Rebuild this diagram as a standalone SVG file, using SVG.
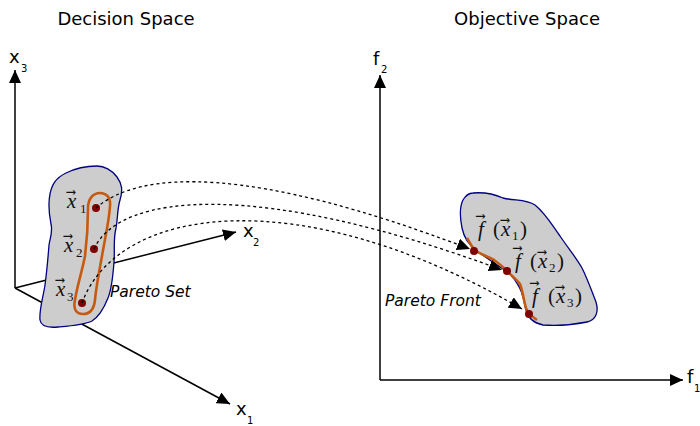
<svg xmlns="http://www.w3.org/2000/svg" width="700" height="426" viewBox="0 0 700 426">
<style>
.title{font-family:"DejaVu Sans",sans-serif;font-size:18px;fill:#000}
.ax{font-family:"DejaVu Sans",sans-serif;font-size:18px;fill:#000}
.sub{font-size:10px}
.lbl{font-family:"DejaVu Sans",sans-serif;font-style:italic;font-size:15.5px;fill:#000}
.m{font-family:"Liberation Serif","DejaVu Serif",serif;font-size:21px;fill:#111}
.mi{font-style:italic}
.acc{font-family:"DejaVu Sans",sans-serif;font-style:normal}
.ms{font-family:"Liberation Serif","DejaVu Serif",serif;font-size:13px;font-style:normal}
.mp{font-family:"Liberation Serif","DejaVu Serif",serif;font-style:normal}
.axis{stroke:#000;stroke-width:1.5;fill:none}
.blob{fill:#cdcdcd;stroke:#000080;stroke-width:1.3}
.set{fill:none;stroke:#c55a11;stroke-width:2.6;stroke-linejoin:round}
.pt{fill:#800000}
.map{fill:none;stroke:#000;stroke-width:1.3;stroke-dasharray:3,3}
</style>
<defs>
<marker id="ah" markerUnits="userSpaceOnUse" markerWidth="14" markerHeight="12" refX="13" refY="6" orient="auto">
<path d="M0,0 L13,6 L0,12 z" fill="#000"/>
</marker>
</defs>
<g id="titles">
<text class="title" x="126" y="25" text-anchor="middle">Decision Space</text>
<text class="title" x="527" y="25" text-anchor="middle">Objective Space</text>
</g>
<g id="decision-axes">
<line class="axis" x1="15" y1="288" x2="15" y2="70" marker-end="url(#ah)"/>
<line class="axis" x1="15" y1="288" x2="236" y2="232" marker-end="url(#ah)"/>
<line class="axis" x1="15" y1="288" x2="230" y2="404" marker-end="url(#ah)"/>
<text class="ax" x="9" y="63">x<tspan class="sub" x="21" y="72">3</tspan></text>
<text class="ax" x="243" y="237">x<tspan class="sub" x="253" y="246">2</tspan></text>
<text class="ax" x="236" y="415">x<tspan class="sub" x="247" y="424">1</tspan></text>
</g>
<g id="objective-axes">
<line class="axis" x1="380" y1="380" x2="380" y2="75" marker-end="url(#ah)"/>
<line class="axis" x1="380" y1="380" x2="683" y2="380" marker-end="url(#ah)"/>
<text class="ax" x="373" y="65">f<tspan class="sub" x="381" y="73">2</tspan></text>
<text class="ax" x="687" y="383">f<tspan class="sub" x="694" y="392">1</tspan></text>
</g>
<g id="decision-region">
<path class="blob" d="M97,166 C104,166 112,170 117,177 C122,184 123,190 120,200 C117,210 118,218 116,228 C113,240 115,250 114,262 C113,276 112,288 108,298 C104,308 100,316 92,321 C84,325 70,326 58,327 C48,328 41,327 40,320 C39,310 43,298 45,285 C47,270 48,258 49,245 C50,238 53,232 51,224 C49,214 48,204 50,194 C52,184 56,178 66,173 C76,168 88,166 97,166 Z"/>
</g>
<g id="pareto-set">
<path class="set" d="M100,193 C106,193 111,197 110,206 C109,222 105,238 102,256 C99,272 96,288 95,300 C94,309 90,314 83,314 C76,314 73,309 75,300 C77,286 82,272 85,256 C87,240 88,222 88,208 C88,199 93,193 100,193 Z"/>
<circle class="pt" cx="96" cy="208" r="4"/>
<circle class="pt" cx="94" cy="249" r="4"/>
<circle class="pt" cx="82" cy="303" r="4"/>
<text class="m" x="67" y="208"><tspan class="mi">x</tspan><tspan class="acc" dy="-2">⃗<tspan class="ms" x="80" y="213">1</tspan></tspan></text>
<text class="m" x="64" y="252"><tspan class="mi">x</tspan><tspan class="acc" dy="-2">⃗<tspan class="ms" x="76" y="257">2</tspan></tspan></text>
<text class="m" x="56" y="296"><tspan class="mi">x</tspan><tspan class="acc" dy="-2">⃗<tspan class="ms" x="67" y="301">3</tspan></tspan></text>
<text class="lbl" x="110" y="297">Pareto Set</text>
</g>
<g id="objective-region">
<path class="blob" d="M473,193 C484,192 494,194 503,198 C515,201 526,199 535,205 C546,214 552,225 560,236 C568,248 575,256 582,268 C588,280 592,292 596,302 C599,312 596,320 587,322 C572,325 557,326 543,325 C533,323 528,318 526,310 C523,298 523,292 518,285 C513,276 508,272 500,267 C490,260 483,256 476,250 C468,244 464,238 462,228 C460,218 459,208 463,200 C466,195 469,193 473,193 Z"/>
<path class="set" d="M467,238 L474,250 C480,254 487,256 494,260 C500,264 504,268 507,271 C511,275 517,280 520,284 C523,292 524,302 526,308 L529,314 L537,320"/>
<circle class="pt" cx="474" cy="251" r="4"/>
<circle class="pt" cx="507" cy="271" r="4"/>
<circle class="pt" cx="529" cy="314" r="4"/>
<text class="m" x="478" y="236"><tspan class="mi">f</tspan><tspan class="acc" dx="2" dy="-6">⃗<tspan class="mp" x="493" y="236">(</tspan></tspan><tspan class="mi" x="501">x</tspan><tspan class="acc" dy="-2">⃗<tspan class="ms" x="512" y="240">1</tspan></tspan><tspan x="520" y="236">)</tspan></text>
<text class="m" x="515" y="268"><tspan class="mi">f</tspan><tspan class="acc" dx="2" dy="-6">⃗<tspan class="mp" x="530" y="268">(</tspan></tspan><tspan class="mi" x="538">x</tspan><tspan class="acc" dy="-2">⃗<tspan class="ms" x="549" y="272">2</tspan></tspan><tspan x="557" y="268">)</tspan></text>
<text class="m" x="532" y="303"><tspan class="mi">f</tspan><tspan class="acc" dx="2" dy="-6">⃗<tspan class="mp" x="548" y="303">(</tspan></tspan><tspan class="mi" x="556">x</tspan><tspan class="acc" dy="-2">⃗<tspan class="ms" x="567" y="307">3</tspan></tspan><tspan x="575" y="303">)</tspan></text>
<text class="lbl" x="385" y="306">Pareto Front</text>
</g>
<g id="connectors">
<path class="map" d="M96,208 C140,170 250,165 470,249" marker-end="url(#ah)"/>
<path class="map" d="M94,249 C120,192 260,180 502,270" marker-end="url(#ah)"/>
<path class="map" d="M82,303 C118,205 300,180 522,309" marker-end="url(#ah)"/>
</g>
</svg>
